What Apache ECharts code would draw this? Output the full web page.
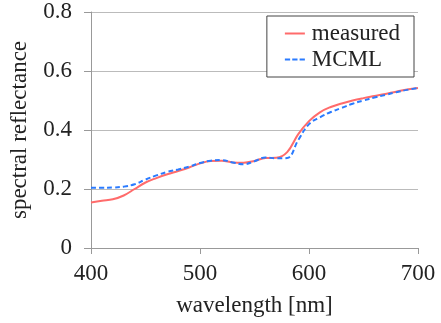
<!DOCTYPE html>
<html><head><meta charset="utf-8">
<script src="https://cdn.jsdelivr.net/npm/echarts@6/dist/echarts.min.js"></script>
<style>html,body{margin:0;padding:0;background:#fff}#c{width:441px;height:323px}</style>
</head><body><div id="c"></div>
<script>
const wavelengths = [400,410,420,430,440,450,460,470,480,490,500,510,520,530,540,550,560,570,580,590,600,610,620,630,640,650,660,670,680,690,700];
const measured = [0.154,0.160,0.165,0.178,0.200,0.222,0.237,0.250,0.261,0.273,0.287,0.295,0.296,0.290,0.289,0.295,0.305,0.306,0.325,0.385,0.430,0.460,0.478,0.490,0.500,0.508,0.515,0.522,0.530,0.537,0.542];
const mcml = [0.204,0.204,0.205,0.208,0.216,0.232,0.246,0.258,0.266,0.276,0.288,0.296,0.298,0.290,0.284,0.294,0.307,0.304,0.305,0.365,0.420,0.443,0.461,0.475,0.489,0.500,0.510,0.519,0.528,0.536,0.542];
const seriesNames = ['measured','MCML'];
const xTicks = [400,500,600,700];
const yTicks = [0,0.2,0.4,0.6,0.8];

const font = '"Liberation Serif","Times New Roman",serif';
const fs = 23;
const chart = echarts.init(document.getElementById('c'), null, {renderer:'canvas'});
chart.setOption({
  animation:false,
  grid:{left:89,top:12,right:23,bottom:75,containLabel:false},
  legend:{
    right:27, top:16, orient:'vertical',
    backgroundColor:'#fff', borderColor:'#444', borderWidth:1,
    padding:[6,14,6,18], itemGap:3, itemWidth:20, itemHeight:10,
    textStyle:{fontFamily:font,fontSize:fs,color:'#222',padding:[0,0,0,2]},
    data:[
      {name:seriesNames[0], icon:'path://M0,4L20,4L20,6L0,6Z'},
      {name:seriesNames[1], icon:'path://M0,4L5,4L5,6L0,6ZM7,4L12,4L12,6L7,6ZM14,4L19,4L19,6L14,6Z'}
    ]
  },
  xAxis:{
    type:'value', min:400, max:700, interval:100,
    name:'wavelength [nm]', nameLocation:'middle', nameGap:46,
    nameTextStyle:{fontFamily:font,fontSize:fs,color:'#222'},
    axisLine:{lineStyle:{color:'#999',width:1}},
    axisTick:{show:true,length:6,lineStyle:{color:'#999'}},
    axisLabel:{fontFamily:font,fontSize:fs,color:'#222',margin:14},
    splitLine:{show:false}
  },
  yAxis:{
    type:'value', min:0, max:0.8, interval:0.2,
    name:'spectral reflectance', nameLocation:'middle', nameGap:60,
    nameTextStyle:{fontFamily:font,fontSize:fs,color:'#222'},
    axisLine:{show:true,lineStyle:{color:'#999',width:1}},
    axisTick:{show:true,length:7,lineStyle:{color:'#999'}},
    axisLabel:{fontFamily:font,fontSize:fs,color:'#222',margin:19,
      formatter:v=>v===0?'0':v.toFixed(1)},
    splitLine:{show:true,lineStyle:{color:'#bbb',width:1}}
  },
  series:[
    {name:seriesNames[0],type:'line',smooth:0.4,showSymbol:false,
     data:wavelengths.map((w,i)=>[w,measured[i]]),
     lineStyle:{color:'#ff6b6b',width:2},itemStyle:{color:'#ff6b6b'},z:2},
    {name:seriesNames[1],type:'line',smooth:0.4,showSymbol:false,
     data:wavelengths.map((w,i)=>[w,mcml[i]]),
     lineStyle:{color:'#2a7bff',width:2,type:[5,3]},itemStyle:{color:'#2a7bff'},z:3}
  ]
});
</script></body></html>
